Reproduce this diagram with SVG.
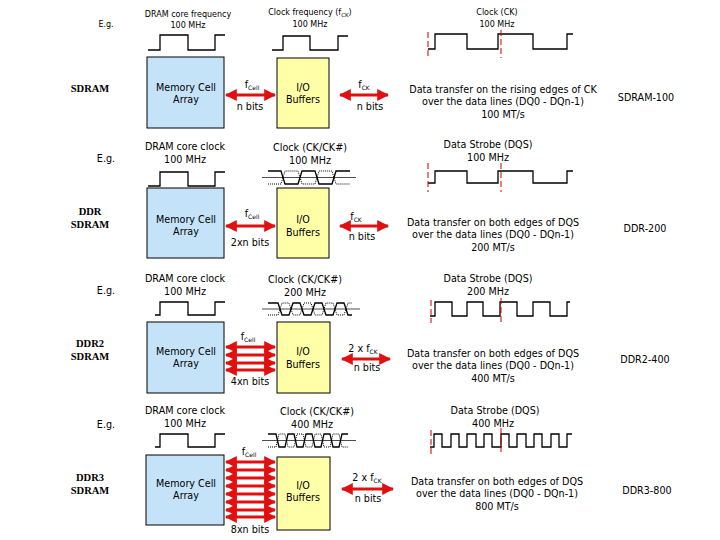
<svg xmlns="http://www.w3.org/2000/svg" width="720" height="540" viewBox="0 0 720 540">
<defs>
<marker id="ah" viewBox="0 0 10 10" refX="9" refY="5" markerWidth="4" markerHeight="4" orient="auto-start-reverse"><path d="M0,0 L10,5 L0,10 z" fill="#e01010"/></marker>
<style>
text{font-family:"DejaVu Sans",Verdana,sans-serif;font-size:9.6px;fill:#000;text-anchor:middle}
.s{font-size:8px}
.lbl{font-family:"Liberation Serif",serif;font-size:10.5px;font-weight:bold}
.mem{fill:#c5e3f8;stroke:#000;stroke-width:1}
.io{fill:#ffffa8;stroke:#000;stroke-width:1}
.arr{stroke:#e01010;stroke-width:3;fill:none;marker-start:url(#ah);marker-end:url(#ah)}
.w{fill:none;stroke:#000;stroke-width:1.3}
.dot{fill:none;stroke:#000;stroke-width:1;stroke-dasharray:1,1}
.rd{stroke:#c00;stroke-width:1;stroke-dasharray:6,3}
</style>
</defs>
<!-- left labels -->
<g id="labels">
<text x="106" y="27" class="s">E.g.</text>
<text x="90" y="92" class="lbl">SDRAM</text>
<text x="106" y="162">E.g.</text>
<text x="90" y="215" class="lbl">DDR</text><text x="90" y="228" class="lbl">SDRAM</text>
<text x="106" y="294">E.g.</text>
<text x="90" y="347" class="lbl">DDR2</text><text x="90" y="360" class="lbl">SDRAM</text>
<text x="106" y="428">E.g.</text>
<text x="90" y="481" class="lbl">DDR3</text><text x="90" y="494" class="lbl">SDRAM</text>
</g>
<!-- SDRAM row -->
<g id="sdram-mem"><rect class="mem" x="147" y="57" width="77" height="71"/><text x="186" y="91">Memory Cell</text><text x="186" y="103">Array</text></g>
<g id="sdram-io"><rect class="io" x="277" y="58" width="52" height="70"/><text x="303" y="91">I/O</text><text x="303" y="103">Buffers</text></g>
<text x="188" y="17" class="s">DRAM core frequency</text><text x="188" y="28" class="s">100 MHz</text>
<path class="w" d="M148,50 H160 V35 H188 V50 H215 V35 H225"/>
<text x="310" y="15" class="s">Clock frequency (f<tspan font-size="5.5px" dy="2">CK</tspan><tspan dy="-2">)</tspan></text><text x="310" y="27" class="s">100 MHz</text>
<path class="w" d="M272,50 H283 V36 H310 V50 H338 V36 H348"/>
<text x="252" y="88">f<tspan font-size="6px" dy="2">Cell</tspan></text><text x="250" y="110">n bits</text>
<text x="364" y="88">f<tspan font-size="6px" dy="2">CK</tspan></text><text x="370" y="110">n bits</text>
<text x="497" y="15" class="s">Clock (CK)</text><text x="497" y="27" class="s">100 MHz</text>
<path class="w" d="M428,49 H435 V34 H467 V49 H498 V34 H533 V49 H567 V34 H573"/>
<line class="rd" x1="428" y1="32" x2="428" y2="58"/><line class="rd" x1="501" y1="30" x2="501" y2="58"/>
<text x="503" y="93">Data transfer on the rising edges of CK</text><text x="503" y="105">over  the data lines (DQ0 - DQn-1)</text><text x="503" y="118">100 MT/s</text>
<text x="646" y="101">SDRAM-100</text>
<!-- DDR row -->
<g id="ddr-mem"><rect class="mem" x="147" y="188" width="77" height="70"/><text x="186" y="223">Memory Cell</text><text x="186" y="235">Array</text></g>
<g id="ddr-io"><rect class="io" x="277" y="188" width="52" height="70"/><text x="303" y="223">I/O</text><text x="303" y="236">Buffers</text></g>
<text x="185" y="150">DRAM core clock</text><text x="185" y="163">100 MHz</text>
<path class="w" d="M148,186 H160 V172 H188 V186 H215 V172 H225"/>
<text x="310" y="151">Clock (CK/CK#)</text><text x="310" y="164">100 MHz</text>
<line x1="262" y1="177.5" x2="356" y2="177.5" stroke="#000" stroke-width="0.7"/>
<path class="w" d="M268,171 H281 L285,184 H298 L302,171 H315 L319,184 H332 L336,171 H350"/>
<path class="dot" d="M268,184 H281 L285,171 H298 L302,184 H315 L319,171 H332 L336,184 H350"/>
<text x="252" y="217">f<tspan font-size="6px" dy="2">Cell</tspan></text><text x="250" y="246">2xn bits</text>
<text x="356" y="220">f<tspan font-size="6px" dy="2">CK</tspan></text><text x="362" y="240">n bits</text>
<text x="488" y="148">Data Strobe (DQS)</text><text x="488" y="161">100 MHz</text>
<path class="w" d="M428,183 H435 V171 H467 V183 H498 V171 H533 V183 H567 V171 H573"/>
<line class="rd" x1="428" y1="163" x2="428" y2="192"/><line class="rd" x1="501" y1="163" x2="501" y2="192"/>
<text x="493" y="226">Data transfer on both edges of DQS</text><text x="493" y="238">over  the data lines (DQ0 - DQn-1)</text><text x="493" y="251">200 MT/s</text>
<text x="645" y="232">DDR-200</text>
<!-- DDR2 row -->
<g id="ddr2-mem"><rect class="mem" x="147" y="322" width="77" height="71"/><text x="186" y="355">Memory Cell</text><text x="186" y="367">Array</text></g>
<g id="ddr2-io"><rect class="io" x="277" y="322" width="53" height="71"/><text x="303" y="355">I/O</text><text x="303" y="368">Buffers</text></g>
<text x="185" y="282">DRAM core clock</text><text x="185" y="295">100 MHz</text>
<path class="w" d="M155,315 H160 V302 H188 V315 H215 V302 H225"/>
<text x="305" y="283">Clock (CK/CK#)</text><text x="305" y="296">200 MHz</text>
<line x1="262" y1="309" x2="360" y2="309" stroke="#000" stroke-width="0.7"/>
<path class="w" d="M268,303 H278 L282,315 H289 L293,303 H300 L304,315 H311 L315,303 H322 L326,315 H333 L337,303 H344 L348,315 H352"/>
<path class="dot" d="M268,315 H278 L282,303 H289 L293,315 H300 L304,303 H311 L315,315 H322 L326,303 H333 L337,315 H344 L348,303 H352"/>
<text x="248" y="340">f<tspan font-size="6px" dy="2">Cell</tspan></text><text x="250" y="385">4xn bits</text>
<text x="363" y="352">2 x f<tspan font-size="6px" dy="2">CK</tspan></text><text x="367" y="371">n bits</text>
<text x="488" y="282">Data Strobe (DQS)</text><text x="488" y="295">200 MHz</text>
<path class="w" d="M430,316 H435 V302 H452 V316 H467 V302 H483 V316 H500 V302 H517 V316 H533 V302 H550 V316 H567 V302 H570"/>
<line class="rd" x1="431" y1="300" x2="431" y2="323"/><line class="rd" x1="501" y1="298" x2="501" y2="323"/>
<text x="493" y="357">Data transfer on both edges of DQS</text><text x="493" y="369">over  the data lines (DQ0 - DQn-1)</text><text x="493" y="382">400 MT/s</text>
<text x="645" y="363">DDR2-400</text>
<!-- DDR3 row -->
<g id="ddr3-mem"><rect class="mem" x="146" y="455" width="78" height="70"/><text x="186" y="487">Memory Cell</text><text x="186" y="499">Array</text></g>
<g id="ddr3-io"><rect class="io" x="277" y="457" width="53" height="73"/><text x="303" y="489">I/O</text><text x="303" y="501">Buffers</text></g>
<text x="185" y="414">DRAM core clock</text><text x="185" y="427">100 MHz</text>
<path class="w" d="M155,447 H160 V434 H188 V447 H215 V434 H225" stroke-width="1.8"/>
<text x="317" y="415">Clock (CK/CK#)</text><text x="312" y="428">400 MHz</text>
<line x1="262" y1="440.5" x2="356" y2="440.5" stroke="#000" stroke-width="0.7"/>
<path class="w" d="M268,434 H276 L279,447 H285 L288,434 H294 L297,447 H303 L306,434 H312 L315,447 H321 L324,434 H330 L333,447 H339 L342,434 H348"/>
<path class="dot" d="M268,447 H276 L279,434 H285 L288,447 H294 L297,434 H303 L306,447 H312 L315,434 H321 L324,447 H330 L333,434 H339 L342,447 H348"/>
<text x="249" y="455">f<tspan font-size="6px" dy="2">Cell</tspan></text><text x="250" y="533">8xn bits</text>
<text x="367" y="481">2 x f<tspan font-size="6px" dy="2">CK</tspan></text><text x="368" y="502">n bits</text>
<text x="495" y="414">Data Strobe (DQS)</text><text x="493" y="427">400 MHz</text>
<path class="w" d="M430,447 H434 V434 H442 V447 H451 V434 H459 V447 H467 V434 H476 V447 H484 V434 H492 V447 H501 V434 H509 V447 H517 V434 H526 V447 H534 V434 H542 V447 H551 V434 H559 V447 H567 V434 H572"/>
<line class="rd" x1="431" y1="430" x2="431" y2="455"/><line class="rd" x1="501" y1="428" x2="501" y2="455"/>
<text x="497" y="485">Data transfer on both edges of DQS</text><text x="497" y="497">over  the data lines (DQ0 - DQn-1)</text><text x="497" y="510">800 MT/s</text>
<text x="647" y="494">DDR3-800</text>
<!-- connectors -->
<g id="connectors">
<line class="arr" x1="226" y1="95" x2="275" y2="95"/>
<line class="arr" x1="340" y1="95" x2="388" y2="95"/>
<line class="arr" x1="226" y1="226" x2="275" y2="226"/>
<line class="arr" x1="340" y1="226" x2="388" y2="226"/>
<line class="arr" x1="226" y1="347" x2="275" y2="347"/>
<line class="arr" x1="226" y1="355" x2="275" y2="355"/>
<line class="arr" x1="226" y1="363" x2="275" y2="363"/>
<line class="arr" x1="226" y1="370" x2="275" y2="370"/>
<line class="arr" x1="342" y1="359" x2="390" y2="359"/>
<line class="arr" x1="226" y1="462" x2="275" y2="462"/>
<line class="arr" x1="226" y1="470" x2="275" y2="470"/>
<line class="arr" x1="226" y1="478" x2="275" y2="478"/>
<line class="arr" x1="226" y1="486" x2="275" y2="486"/>
<line class="arr" x1="226" y1="494" x2="275" y2="494"/>
<line class="arr" x1="226" y1="502" x2="275" y2="502"/>
<line class="arr" x1="226" y1="510" x2="275" y2="510"/>
<line class="arr" x1="226" y1="517" x2="275" y2="517"/>
<line class="arr" x1="342" y1="489" x2="393" y2="489"/>
</g>
</svg>
